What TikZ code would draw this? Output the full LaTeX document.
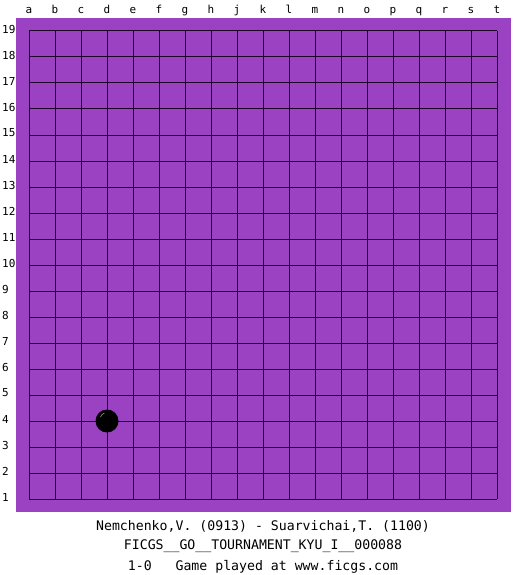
\documentclass[tikz,border=0pt]{standalone}
\usepackage{fontspec}
\setmonofont{DejaVu Sans Mono}
\definecolor{board}{RGB}{154,66,194}
\definecolor{gridc}{RGB}{30,0,40}
\definecolor{shine}{RGB}{150,150,150}
\begin{document}
\begin{tikzpicture}[x=1pt,y=-1pt,
  coordlab/.style={font=\ttfamily\fontsize{11}{11}\selectfont, inner sep=0pt},
  caption/.style={font=\ttfamily\fontsize{13.2}{13.2}\selectfont, inner sep=0pt, anchor=base},
  gridline/.style={draw=gridc, line width=1pt}]
\useasboundingbox (0,0) rectangle (525,575);
\fill[white] (0,0) rectangle (525,575);
\fill[board] (16,18) rectangle (511,512);
% grid
\foreach \i in {0,...,18} {
  \draw[gridline] ({29+26*\i},31) -- ({29+26*\i},499);
  \draw[gridline] (29,{31+26*\i}) -- (497,{31+26*\i});
}
% column labels
\foreach \l [count=\i from 0] in {a,b,c,d,e,f,g,h,j,k,l,m,n,o,p,q,r,s,t} {
  \node[coordlab, anchor=base] (col\i) at ({29+26*\i},14) {\l};
}
% row labels
\foreach \r in {1,...,19} {
  \node[coordlab, anchor=west] (row\r) at (2,{499-26*(\r-1)-2}) {\r};
}
% stone at d4
\fill[black] (107,421) circle (11.5);
\draw[shine, line width=0.6pt] (100.5,417) arc (200:250:6.5);
% captions
\node[caption] (t1) at (263,530) {Nemchenko,V. (0913) - Suarvichai,T. (1100)};
\node[caption] (t2) at (263,549) {FICGS\_\_GO\_\_TOURNAMENT\_KYU\_I\_\_000088};
\node[caption] (t3) at (263,570) {1-0\ \ \ Game played at www.ficgs.com};
\end{tikzpicture}
\end{document}
